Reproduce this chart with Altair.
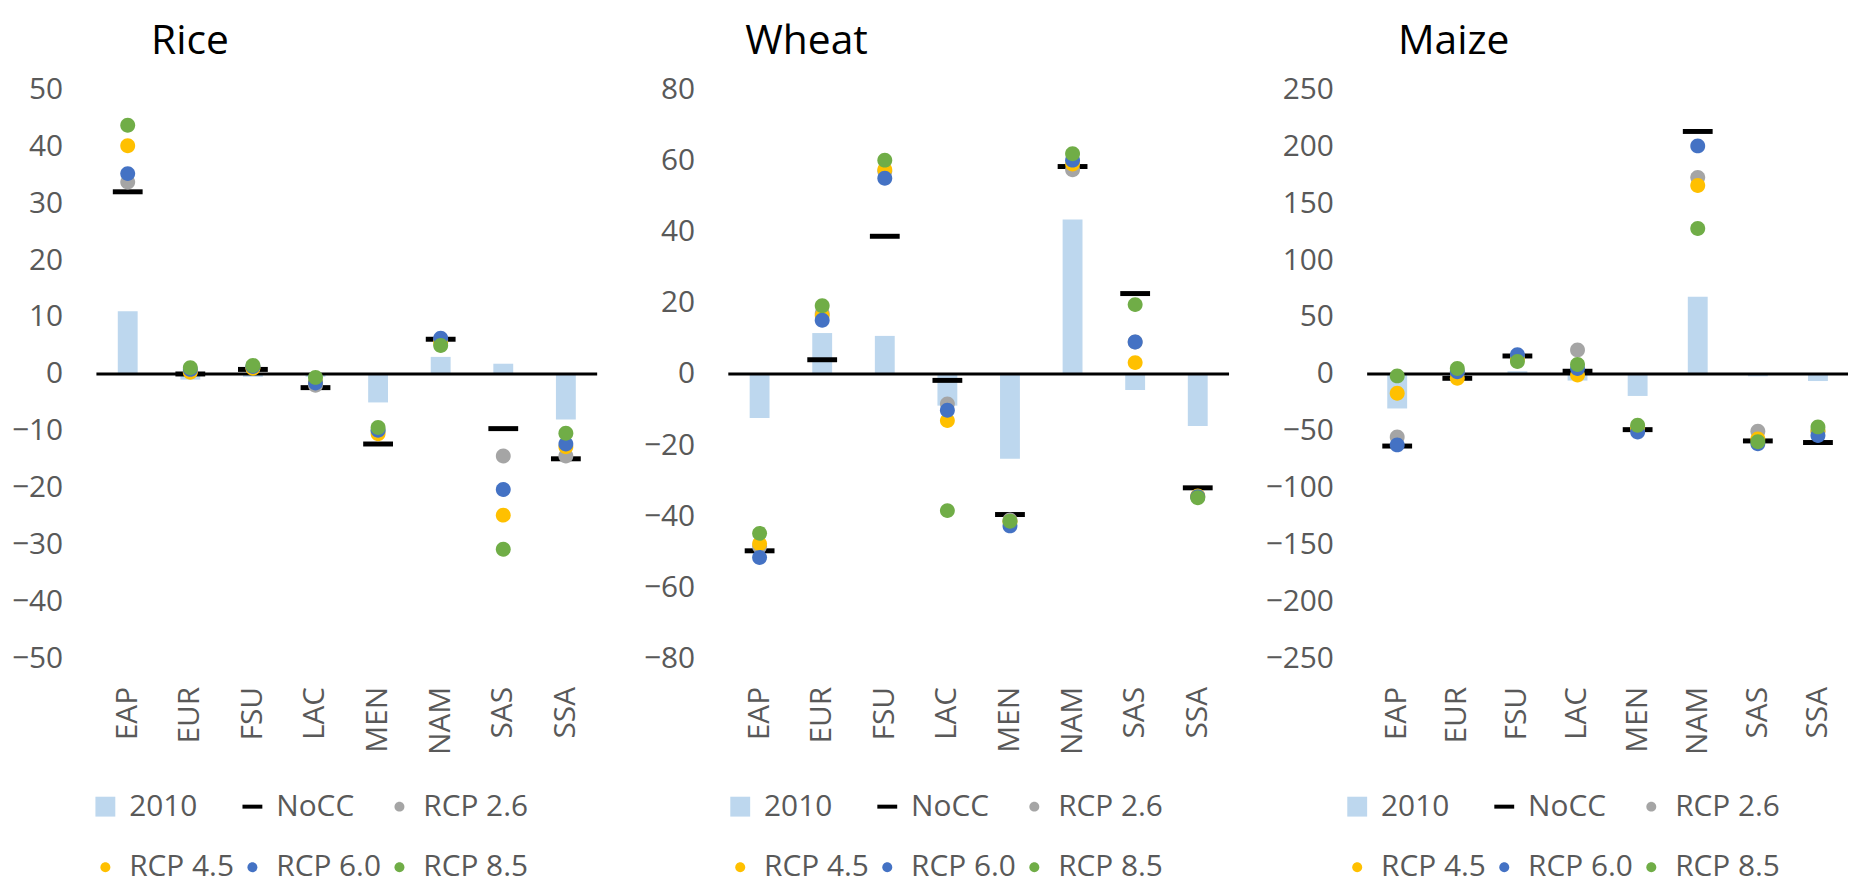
import altair as alt
import pandas as pd

regions = ["EAP", "EUR", "FSU", "LAC", "MEN", "NAM", "SAS", "SSA"]
series_names = ["2010", "NoCC", "RCP 2.6", "RCP 4.5", "RCP 6.0", "RCP 8.5"]
series_colors = ["#BDD7EE", "#000000", "#A5A5A5", "#FFC000", "#4472C4", "#70AD47"]

# Rice
rice_2010 = [11.0, -1.0, -0.5, -0.5, -5.0, 3.0, 1.8, -8.0]
rice_nocc = [32.0, 0.0, 0.8, -2.4, -12.3, 6.1, -9.6, -14.9]
rice_rcp26 = [33.7, 0.5, 1.2, -2.0, -10.0, 6.0, -14.4, -14.4]
rice_rcp45 = [40.1, 0.3, 1.0, -1.5, -10.5, 5.5, -24.8, -12.8]
rice_rcp60 = [35.2, 0.8, 1.3, -1.6, -9.9, 6.3, -20.3, -12.3]
rice_rcp85 = [43.7, 1.1, 1.5, -0.6, -9.4, 5.0, -30.8, -10.4]

# Wheat
wheat_2010 = [-12.4, 11.5, 10.7, -8.9, -23.8, 43.4, -4.5, -14.6]
wheat_nocc = [-49.7, 4.0, 38.7, -1.8, -39.5, 58.3, 22.6, -32.0]
wheat_rcp26 = [-48.5, 17.0, 57.0, -8.4, -41.0, 57.4, 9.0, -34.5]
wheat_rcp45 = [-47.7, 16.4, 57.4, -13.1, -41.5, 59.0, 3.2, -34.3]
wheat_rcp60 = [-51.6, 15.1, 55.0, -10.2, -42.7, 60.1, 9.0, -34.5]
wheat_rcp85 = [-44.8, 19.2, 60.1, -38.4, -41.4, 61.9, 19.5, -34.8]

# Maize
maize_2010 = [-30.3, -3.0, 2.4, -5.8, -19.3, 67.8, -2.0, -6.2]
maize_nocc = [-63.3, -3.8, 15.8, 2.4, -48.9, 213.0, -58.8, -60.2]
maize_rcp26 = [-55.4, 2.0, 15.0, 21.0, -47.0, 172.7, -50.2, -50.0]
maize_rcp45 = [-16.9, -3.8, 13.0, -1.0, -48.0, 165.5, -57.0, -50.0]
maize_rcp60 = [-62.3, 2.0, 16.9, 4.8, -50.9, 200.3, -61.3, -54.0]
maize_rcp85 = [-1.7, 4.8, 11.0, 8.3, -45.1, 127.7, -59.5, -46.5]

rice_ticks = [50, 40, 30, 20, 10, 0, -10, -20, -30, -40, -50]
wheat_ticks = [80, 60, 40, 20, 0, -20, -40, -60, -80]
maize_ticks = [250, 200, 150, 100, 50, 0, -50, -100, -150, -200, -250]

FONT = "Open Sans"
GREY = "#595959"

shape_paths = [
    "M-1,-1H1V1H-1Z",
    "M-1,-0.2H1V0.2H-1Z",
    "M-0.5,0A0.5,0.5,0,1,1,0.5,0A0.5,0.5,0,1,1,-0.5,0Z",
    "M-0.5,0A0.5,0.5,0,1,1,0.5,0A0.5,0.5,0,1,1,-0.5,0Z",
    "M-0.5,0A0.5,0.5,0,1,1,0.5,0A0.5,0.5,0,1,1,-0.5,0Z",
    "M-0.5,0A0.5,0.5,0,1,1,0.5,0A0.5,0.5,0,1,1,-0.5,0Z",
]


def long_table(lists):
    rows = []
    for name, vals in zip(series_names, lists):
        for r, v in zip(regions, vals):
            rows.append({"region": r, "series": name, "value": v})
    return pd.DataFrame(rows)


def panel(title, lists, ticks, width, y_extent, title_dx, legend_x):
    df = long_table(lists)
    lo, hi = min(ticks), max(ticks)
    leg = alt.Legend(
        title=None, orient="none", legendX=legend_x, legendY=707, columns=3,
        direction="horizontal",
        labelFont=FONT, labelFontSize=30, labelColor=GREY, symbolSize=400,
        symbolStrokeWidth=0, labelOffset=9, columnPadding=3, rowPadding=31,
        padding=0, symbolOpacity=1,
    )
    x = alt.X(
        "region:N", sort=regions,
        scale=alt.Scale(domain=regions, paddingInner=0, paddingOuter=0),
        axis=alt.Axis(title=None, labelAngle=270, labelPadding=28, ticks=False,
                      tickSize=0, domain=False, labelFont=FONT, labelFontSize=30,
                      labelColor=GREY, grid=False),
    )
    y = alt.Y(
        "value:Q", stack=None,
        scale=alt.Scale(domain=[lo, hi], nice=False, zero=False),
        axis=alt.Axis(title=None, values=ticks, ticks=False, tickSize=0, domain=False,
                      grid=False, labelFont=FONT, labelFontSize=30, labelColor=GREY,
                      labelPadding=34, minExtent=y_extent, maxExtent=y_extent),
    )
    color = alt.Color("series:N", scale=alt.Scale(domain=series_names, range=series_colors), legend=leg)
    shape = alt.Shape("series:N", scale=alt.Scale(domain=series_names, range=shape_paths), legend=leg)

    base = alt.Chart(df)
    bars = base.transform_filter(alt.datum.series == "2010").mark_bar(size=20).encode(x=x, y=y, color=color)
    zero = alt.Chart(pd.DataFrame({"value": [0]})).mark_rule(color="black", strokeWidth=3).encode(
        y=alt.Y("value:Q"))
    nocc = base.transform_filter(alt.datum.series == "NoCC").mark_tick(
        size=30, thickness=5, opacity=1).encode(x=x, y=y, color=color)
    pts = base.transform_filter(alt.FieldOneOfPredicate(field="series", oneOf=series_names[2:])).mark_point(
        filled=True, size=900, opacity=1, strokeWidth=0).encode(x=x, y=y, color=color, shape=shape)

    return alt.layer(bars, zero, nocc, pts).properties(
        width=width, height=573,
        title=alt.TitleParams(text=title, anchor="start", frame="group", dx=title_dx,
                              fontSize=41, font=FONT, color="black", fontWeight="normal",
                              offset=12),
    )


p1 = panel("Rice", [rice_2010, rice_nocc, rice_rcp26, rice_rcp45, rice_rcp60, rice_rcp85],
           rice_ticks, 504, 89, 55, -6)
p2 = panel("Wheat", [wheat_2010, wheat_nocc, wheat_rcp26, wheat_rcp45, wheat_rcp60, wheat_rcp85],
           wheat_ticks, 504, 120, 17, -3)
p3 = panel("Maize", [maize_2010, maize_nocc, maize_rcp26, maize_rcp45, maize_rcp60, maize_rcp85],
           maize_ticks, 484, 127, 31, -25)

chart = alt.hconcat(p1, p2, p3, spacing=10).resolve_scale(
    color="independent", shape="independent", x="independent", y="independent"
).resolve_legend(color="independent", shape="independent").properties(
    padding={"top": 10, "left": 0, "right": 0, "bottom": 0}
).configure_view(stroke=None)

chart.save("out.html", embed_options={"renderer": "svg", "actions": False})
